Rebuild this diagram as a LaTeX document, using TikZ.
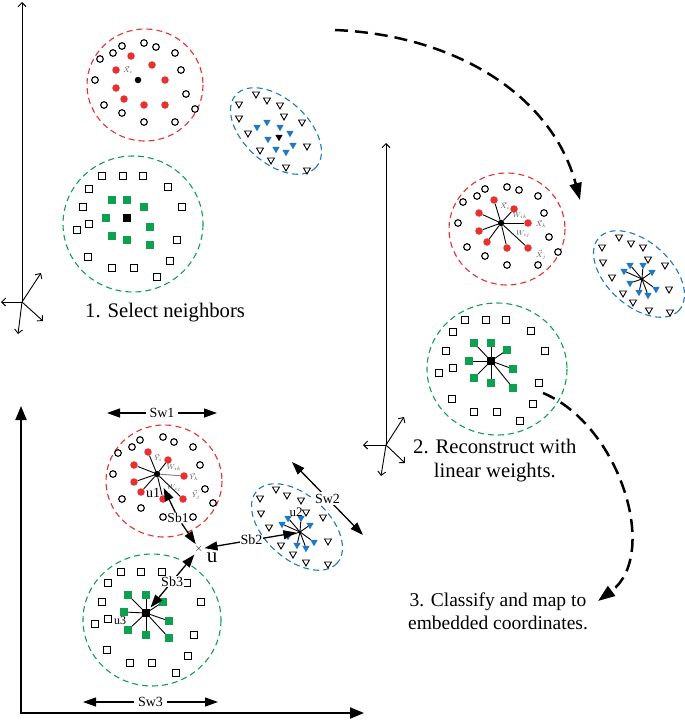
\documentclass[tikz,border=0pt]{standalone}
\usepackage{fontspec}
\setmainfont{Liberation Serif}
\usetikzlibrary{arrows.meta,shapes.geometric}
\definecolor{cred}{HTML}{E8302F}
\definecolor{cgreen}{HTML}{0FA04F}
\definecolor{cblue}{HTML}{1E78C2}
\definecolor{lblgray}{HTML}{555555}
\tikzset{
  oc/.style={circle,draw=black,line width=1.1pt,inner sep=0pt,minimum size=6.6pt,fill=white},
  rc/.style={circle,fill=cred,inner sep=0pt,minimum size=7.5pt},
  kc/.style={circle,fill=black,inner sep=0pt,minimum size=6.5pt},
  os/.style={rectangle,draw=black,line width=1pt,inner sep=0pt,minimum size=7pt,fill=white},
  gsq/.style={rectangle,fill=cgreen,inner sep=0pt,minimum size=7.5pt},
  ksq/.style={rectangle,fill=black,inner sep=0pt,minimum size=7.5pt},
  ot/.style={regular polygon,regular polygon sides=3,shape border rotate=180,draw=black,line width=0.9pt,inner sep=0pt,minimum size=8pt,fill=white},
  bt/.style={regular polygon,regular polygon sides=3,shape border rotate=180,fill=cblue,inner sep=0pt,minimum size=8.5pt},
  kt/.style={regular polygon,regular polygon sides=3,shape border rotate=180,fill=black,inner sep=0pt,minimum size=8.5pt},
  rell/.style={draw=cred,dash pattern=on 6pt off 4pt,line width=1.1pt},
  gell/.style={draw=cgreen,dash pattern=on 6pt off 4pt,line width=1.1pt},
  bell/.style={draw=cblue,dash pattern=on 6pt off 4pt,line width=1.1pt},
  spoke/.style={draw=black,line width=0.9pt},
  thinax/.style={draw=black,line width=0.9pt,-{Straight Barb[length=4pt,width=8pt]}},
  thickax/.style={draw=black,line width=2pt,line cap=rect,-{Triangle[length=14pt,width=11pt]}},
  dbl/.style={draw=black,line width=1.3pt,{Triangle[length=13pt,width=9pt]}-{Triangle[length=13pt,width=9pt]}},
  sgl/.style={draw=black,line width=1.3pt,-{Triangle[length=13pt,width=9pt]}},
  bigarc/.style={draw=black,line width=2.5pt,dash pattern=on 13pt off 7pt,-{Triangle[length=17pt,width=12pt]}},
  title/.style={inner sep=0pt,font=\fontsize{20.7}{24}\selectfont,align=center},
  smlbl/.style={inner sep=0pt,text=lblgray,font=\fontsize{7}{8}\selectfont},
  mlbl/.style={inner sep=0.5pt,fill=white,font=\fontsize{14}{16}\selectfont},
  ulbl/.style={inner sep=0pt,font=\fontsize{14}{16}\selectfont}
}
\begin{document}
\begin{tikzpicture}[x=1pt,y=-1pt]
\useasboundingbox (0,0) rectangle (685,720);

% ---------------- Panel 1 ----------------
\coordinate (o1) at (22,302);
\coordinate (o1y) at (22,2);
\coordinate (o1l) at (1,302);
\coordinate (o1a) at (41,273);
\coordinate (o1b) at (43,321);
\coordinate (o1c) at (18,334);
\draw[thinax] (o1) -- (o1y);
\draw[thinax] (o1) -- (o1l);
\draw[thinax] (o1) -- (o1a);
\draw[thinax] (o1) -- (o1b);
\draw[thinax] (o1) -- (o1c);

\draw[rell] (145,85) ellipse [x radius=58, y radius=56];
\foreach[count=\i] \x/\y in {122/46,144/43,156/47,113/53,175/53,100/59,181/70,95/80,186/94,104/105,195/109,122/113,144/122,175/122}
  \node[oc] (aro\i) at (\x,\y) {};
\foreach[count=\i] \x/\y in {131/56,152/65,116/70,165/80,116/88,124/99,144/105,165/105}
  \node[rc] (arf\i) at (\x,\y) {};
\node[kc] (arc) at (138,80) {};
\node[smlbl] (arl) at (128,70) {$\vec{X}_i$};

\draw[bell, rotate around={-42:(276,131)}] (276,131) ellipse [x radius=54, y radius=32];
\foreach[count=\i] \x/\y in {256/94,267/100,280/105,239/104,284/116,239/118,302/122,248/133,307/146,260/150,271/160,286/167,307/170}
  \node[ot] (abo\i) at (\x,\y) {};
\foreach[count=\i] \x/\y in {267/122,280/127,257/127,290/133,268/139,293/145,276/149,286/152}
  \node[bt] (abf\i) at (\x,\y) {};
\node[kt] (abc) at (279,137) {};

\draw[gell] (133,224) ellipse [x radius=70, y radius=68];
\foreach[count=\i] \x/\y in {102/176,123/176,143/176,89/189,168/187,83/207,182/207,89/224,77/230,177/240,88/257,170/261,112/268,134/268,157/277}
  \node[os] (ago\i) at (\x,\y) {};
\foreach[count=\i] \x/\y in {112/200,127/200,144/207,106/218,150/227,112/236,127/240,150/245}
  \node[gsq] (agf\i) at (\x,\y) {};
\node[ksq] (agc) at (127,218) {};

\node[title,anchor=base west] (t1) at (85,317) {1. Select neighbors};

% ---------------- Panel 2 ----------------
\coordinate (o2) at (386,445);
\coordinate (o2y) at (386,143);
\coordinate (o2l) at (363,445);
\coordinate (o2a) at (404,417);
\coordinate (o2b) at (405,463);
\coordinate (o2c) at (381,476);
\draw[thinax] (o2) -- (o2y);
\draw[thinax] (o2) -- (o2l);
\draw[thinax] (o2) -- (o2a);
\draw[thinax] (o2) -- (o2b);
\draw[thinax] (o2) -- (o2c);

\draw[rell] (507,229) ellipse [x radius=58, y radius=56];
\foreach[count=\i] \x/\y in {485/189,507/187,519/190,477/196,463/202,538/196,544/213,458/223,549/237,467/247,558/252,485/256,507/265,538/265}
  \node[oc] (bro\i) at (\x,\y) {};
\node[kc] (brc) at (501,223) {};
\foreach[count=\i] \x/\y in {494/200,514/209,479/213,528/223,479/231,487/242,507/248,528/248}
  {\node[rc] (brf\i) at (\x,\y) {};
   \draw[spoke] (brc) -- (brf\i);}
\node[smlbl] (bl1) at (505,206) {$\vec{X}_i$};
\node[smlbl] (bl2) at (520,216) {$W_{ik}$};
\node[smlbl] (bl3) at (541,224) {$\vec{X}_k$};
\node[smlbl] (bl4) at (523,234) {$W_{ij}$};
\node[smlbl] (bl5) at (541,255) {$\vec{X}_j$};

\draw[bell, rotate around={-42:(639,274)}] (639,274) ellipse [x radius=54, y radius=32];
\foreach[count=\i] \x/\y in {619/237,602/247,631/243,643/247,603/262,648/259,665/265,612/277,669/289,623/293,633/302,649/310,670/312}
  \node[ot] (bbo\i) at (\x,\y) {};
\coordinate (bbc) at (642,279);
\foreach[count=\i] \x/\y in {630/265,643/265,624/271,652/272,630/283,656/289,639/292,648/295}
  {\node[bt] (bbf\i) at (\x,\y) {};
   \draw[spoke] (bbc) -- (bbf\i);}
\node[circle,fill=black,inner sep=0pt,minimum size=3pt] (bbk) at (bbc) {};

\draw[gell] (497,369) ellipse [x radius=70, y radius=66];
\foreach[count=\i] \x/\y in {465/320,486/320,506/320,453/332,531/331,446/351,545/351,453/368,439/373,539/383,452/399,533/404,474/412,497/412,520/421}
  \node[os] (bgo\i) at (\x,\y) {};
\node[ksq] (bgc) at (491,361) {};
\foreach[count=\i] \x/\y in {474/343,491/343,507/350,469/361,513/369,474/378,491/383,513/388}
  {\node[gsq] (bgf\i) at (\x,\y) {};
   \draw[spoke] (bgc) -- (bgf\i);}

\node[title,anchor=north west] (t2) at (413,438.5) {2. Reconstruct with\\linear weights.};

% ---------------- Panel 3 ----------------
\coordinate (o3) at (21,713);
\coordinate (o3y) at (21,406);
\coordinate (o3x) at (364,713);
\draw[thickax] (o3) -- (o3y);
\draw[thickax] (o3) -- (o3x);

\draw[rell] (164,481) ellipse [x radius=58, y radius=56];
\foreach[count=\i] \x/\y in {140/440,163/437,174/442,132/447,118/453,193/447,200/465,113/474,205/489,122/499,213/503,141/508,163/517,193/517}
  \node[oc] (cro\i) at (\x,\y) {};
\node[kc] (crc) at (157,474) {};
\foreach[count=\i] \x/\y in {148/452,168/460,134/465,184/476,134/482,141/492,163/499,183/499}
  \node[rc] (crf\i) at (\x,\y) {};
\foreach \i in {1,2,3,5,6,7,8} \draw[spoke] (crc) -- (crf\i);
\draw[spoke,draw=gray] (crc) -- (crf4);
\node[smlbl] (cl1) at (158,458) {$\vec{Y}_i$};
\node[smlbl] (cl2) at (174,468) {$W_{ik}$};
\node[smlbl] (cl3) at (194,477) {$\vec{Y}_k$};
\node[smlbl] (cl4) at (174,488) {$W_{ij}$};
\node[smlbl] (cl5) at (196,495) {$\vec{Y}_j$};
\node[ulbl] (u1) at (153,493) {u1};

\draw[bell, rotate around={-42:(297,527)}] (297,527) ellipse [x radius=54, y radius=32];
\foreach[count=\i] \x/\y in {276/489,287/495,301/500,260/498,306/512,261/513,323/517,269/527,328/541,281/545,293/554,306/562,328/564}
  \node[ot] (cbo\i) at (\x,\y) {};
\coordinate (cbc) at (300,532);
\foreach[count=\i] \x/\y in {288/518,301/518,282/524,310/525,288/536,314/542,297/545,306/548}
  {\node[bt] (cbf\i) at (\x,\y) {};
   \draw[spoke] (cbc) -- (cbf\i);}
\node[circle,fill=black,inner sep=0pt,minimum size=3pt] (cbk) at (cbc) {};
\node[ulbl,font=\fontsize{13}{15}\selectfont] (u2) at (296,512) {u2};

\draw[gell] (152,620) ellipse [x radius=69, y radius=66];
\foreach[count=\i] \x/\y in {121/572,141/572,162/572,108/583,187/583,102/602,201/602,108/619,95/624,194/635,107/650,188/656,130/663,152/663,176/673}
  \node[os] (cgo\i) at (\x,\y) {};
\node[ksq] (cgc) at (146,613) {};
\foreach[count=\i] \x/\y in {128/595,146/595,163/602,124/612,169/621,128/630,146/635,169/638}
  {\node[gsq] (cgf\i) at (\x,\y) {};
   \draw[spoke] (cgc) -- (cgf\i);}
\node[ulbl,font=\fontsize{12}{14}\selectfont] (u3) at (120,621) {u3};

% u point
\node[inner sep=1pt,font=\fontsize{11}{12}\selectfont] (ux) at (199,549) {$\times$};
\node[inner sep=0pt,font=\fontsize{21}{24}\selectfont] (ulab) at (212,558) {u};

% Sb arrows
\node[inner sep=0.5pt,font=\fontsize{13.5}{15}\selectfont] (sb1) at (178,518) {Sb1};
\draw[sgl,shorten >=12pt] (sb1) -- (crc);
\draw[sgl] (sb1) -- (ux);
\draw[dbl,shorten >=2pt] (ux) -- node[mlbl,pos=0.5] (sb2) {Sb2} (cbk);
\draw[dbl,shorten <=1pt,shorten >=2pt] (ux) -- node[mlbl,pos=0.5] (sb3) {Sb3} (cgc);

% Sw arrows
\coordinate (sw1a) at (107,413);
\coordinate (sw1b) at (217,413);
\draw[dbl] (sw1a) -- node[mlbl,inner xsep=4pt] (sw1) {Sw1} (sw1b);
\coordinate (sw2a) at (292,462);
\coordinate (sw2b) at (363,535);
\draw[dbl] (sw2a) -- node[mlbl,inner sep=2pt] (sw2) {Sw2} (sw2b);
\coordinate (sw3a) at (83,702);
\coordinate (sw3b) at (218,702);
\draw[dbl] (sw3a) -- node[mlbl,inner xsep=4pt] (sw3) {Sw3} (sw3b);

\node[title,anchor=north,font=\fontsize{19.5}{23}\selectfont] (t3) at (498,593) {3. Classify and map to\\embedded coordinates.};

% ---------------- big dashed arcs ----------------
\coordinate (a1s) at (335,30);
\coordinate (a1e) at (580,200);
\draw[bigarc] (a1s) .. controls (455,35) and (552,95) .. (a1e);
\coordinate (a2s) at (543,393);
\coordinate (a2e) at (598,601);
\draw[bigarc] (a2s) .. controls (620,425) and (660,555) .. (a2e);
\end{tikzpicture}
\end{document}
